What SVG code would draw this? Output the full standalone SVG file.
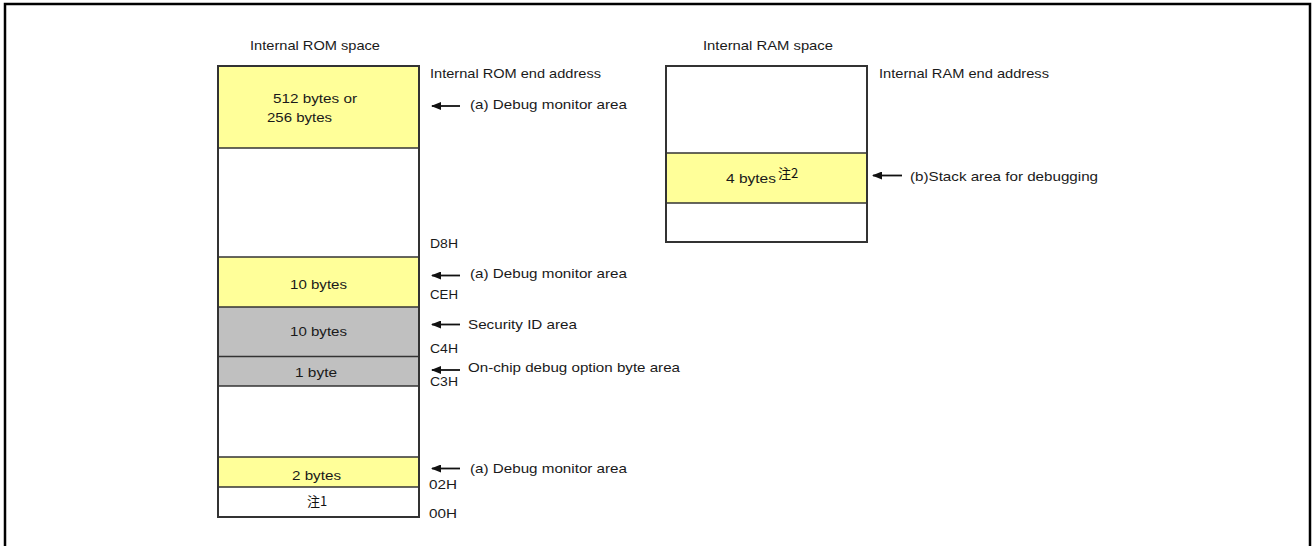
<svg xmlns="http://www.w3.org/2000/svg" width="1312" height="546" viewBox="0 0 1312 546">
<defs>
<style>
text{font-family:"Liberation Sans",Arial,sans-serif;font-size:13px;fill:#1a1a1a;}
.cjk{font-family:"Noto Sans CJK JP","Noto Sans CJK SC",sans-serif;fill:#111;}
.box{stroke:#333;stroke-width:2;}
.div{stroke:#333;stroke-width:1.5;}
.y{fill:#FFFF99;}
.g{fill:#C0C0C0;}
.w{fill:#FFFFFF;}
.conn line{stroke:#111;stroke-width:1.8;marker-end:url(#ah);}
</style>
<marker id="ah" viewBox="0 0 10 8" refX="9" refY="4" markerWidth="11" markerHeight="8" markerUnits="userSpaceOnUse" orient="auto">
<path d="M0,0 L10,4 L0,8 z" fill="#111"/>
</marker>
</defs>
<rect x="0" y="0" width="1312" height="546" fill="#fff"/>
<path d="M5,546 V4 H1310 V546" fill="none" stroke="#000" stroke-width="2.5"/>

<g id="rom-title"><text x="250" y="50" textLength="130" lengthAdjust="spacingAndGlyphs">Internal ROM space</text></g>
<g id="ram-title"><text x="703" y="50" textLength="130" lengthAdjust="spacingAndGlyphs">Internal RAM space</text></g>

<g id="rom-space">
<rect x="218" y="66" width="201" height="451" class="w"/>
<rect x="218" y="66" width="201" height="82" class="y"/>
<rect x="218" y="257" width="201" height="50" class="y"/>
<rect x="218" y="307" width="201" height="79" class="g"/>
<rect x="218" y="457" width="201" height="30" class="y"/>
<line x1="218" y1="148" x2="419" y2="148" class="div"/>
<line x1="218" y1="257" x2="419" y2="257" class="div"/>
<line x1="218" y1="307" x2="419" y2="307" class="div"/>
<line x1="218" y1="356.5" x2="419" y2="356.5" class="div"/>
<line x1="218" y1="386" x2="419" y2="386" class="div"/>
<line x1="218" y1="457" x2="419" y2="457" class="div"/>
<line x1="218" y1="487" x2="419" y2="487" class="div"/>
<rect x="218" y="66" width="201" height="451" fill="none" class="box"/>
</g>
<g id="rom-seg-monitor-top"><text x="273" y="103" textLength="84" lengthAdjust="spacingAndGlyphs">512 bytes or</text><text x="267" y="122" textLength="65" lengthAdjust="spacingAndGlyphs">256 bytes</text></g>
<g id="rom-seg-monitor-mid"><text x="290" y="289" textLength="57" lengthAdjust="spacingAndGlyphs">10 bytes</text></g>
<g id="rom-seg-security"><text x="290" y="336" textLength="57" lengthAdjust="spacingAndGlyphs">10 bytes</text></g>
<g id="rom-seg-option"><text x="295" y="377" textLength="42" lengthAdjust="spacingAndGlyphs">1 byte</text></g>
<g id="rom-seg-monitor-bottom"><text x="292" y="480" textLength="49" lengthAdjust="spacingAndGlyphs">2 bytes</text></g>
<g id="rom-seg-note1"><text x="307" y="506" class="cjk" font-size="13">注1</text></g>

<g id="rom-addresses">
<text x="430" y="78" textLength="171" lengthAdjust="spacingAndGlyphs">Internal ROM end address</text>
<text x="430" y="248" textLength="28" lengthAdjust="spacingAndGlyphs">D8H</text>
<text x="430" y="299" textLength="28" lengthAdjust="spacingAndGlyphs">CEH</text>
<text x="430" y="353" textLength="28" lengthAdjust="spacingAndGlyphs">C4H</text>
<text x="430" y="386" textLength="28" lengthAdjust="spacingAndGlyphs">C3H</text>
<text x="429" y="489" textLength="28" lengthAdjust="spacingAndGlyphs">02H</text>
<text x="429" y="518" textLength="28" lengthAdjust="spacingAndGlyphs">00H</text>
</g>

<g id="ram-space">
<rect x="666" y="66" width="201" height="176" class="w"/>
<rect x="666" y="153" width="201" height="50" class="y"/>
<line x1="666" y1="153" x2="867" y2="153" class="div"/>
<line x1="666" y1="203" x2="867" y2="203" class="div"/>
<rect x="666" y="66" width="201" height="176" fill="none" class="box"/>
<text x="726" y="183" textLength="50" lengthAdjust="spacingAndGlyphs">4 bytes</text>
<text x="778" y="178" class="cjk" font-size="9">注2</text>
</g>
<g id="ram-addresses"><text x="879" y="78" textLength="170" lengthAdjust="spacingAndGlyphs">Internal RAM end address</text></g>

<g id="labels">
<text x="470" y="109" textLength="157" lengthAdjust="spacingAndGlyphs">(a) Debug monitor area</text>
<text x="470" y="278" textLength="157" lengthAdjust="spacingAndGlyphs">(a) Debug monitor area</text>
<text x="468" y="329" textLength="109" lengthAdjust="spacingAndGlyphs">Security ID area</text>
<text x="468" y="372" textLength="212" lengthAdjust="spacingAndGlyphs">On-chip debug option byte area</text>
<text x="470" y="473" textLength="157" lengthAdjust="spacingAndGlyphs">(a) Debug monitor area</text>
<text x="910" y="181" textLength="188" lengthAdjust="spacingAndGlyphs">(b)Stack area for debugging</text>
</g>

<g id="connectors" class="conn">
<line x1="460" y1="106" x2="432" y2="106"/>
<line x1="460" y1="275.5" x2="432" y2="275.5"/>
<line x1="460" y1="324.5" x2="432" y2="324.5"/>
<line x1="460" y1="370" x2="432" y2="370"/>
<line x1="460" y1="468.5" x2="432" y2="468.5"/>
<line x1="902" y1="175.5" x2="873" y2="175.5"/>
</g>
</svg>
